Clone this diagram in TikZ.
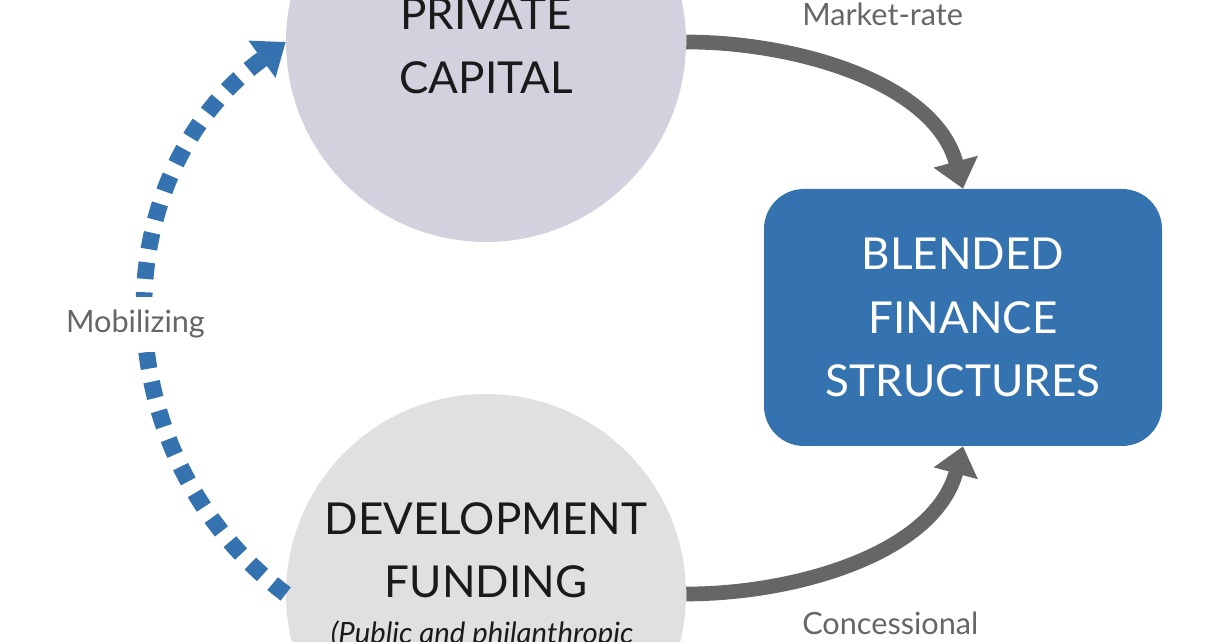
\documentclass[tikz,border=0pt]{standalone}
\usepackage{fontspec}
\setmainfont{Lato}
\usepackage{xcolor}
\usetikzlibrary{arrows.meta, positioning}

\definecolor{blendblue}{HTML}{3572B0}
\definecolor{flowgray}{HTML}{666666}
\definecolor{privfill}{HTML}{D5D0DD}
\definecolor{devfill}{HTML}{E0E0E0}
\definecolor{inkblack}{HTML}{1A1A1A}

\begin{document}
\begin{tikzpicture}[
  x=0.75pt, y=0.75pt,
  pool/.style={circle, minimum size=300pt, inner sep=0pt},
  pooltext/.style={align=center, text=inkblack, inner sep=0pt,
    font=\fontsize{33}{47.5}\selectfont},
  blend/.style={rectangle, rounded corners=30pt, fill=blendblue, text=white,
    align=center, minimum width=298.5pt, minimum height=192.75pt,
    font=\fontsize{33}{47.5}\selectfont},
  note/.style={text=inkblack, inner sep=0pt, font=\fontsize{22}{26}\selectfont\itshape},
  tag/.style={text=flowgray, inner sep=0pt, font=\fontsize{23}{27}\selectfont},
  flow/.style={-{Triangle[length=21pt, width=33pt]}, line width=11pt, draw=flowgray},
  mobil/.style={-{Triangle[length=22pt, width=33pt]}, line width=12.5pt,
    draw=blendblue, dash pattern=on 12.5pt off 10pt}
]
  \useasboundingbox (0,0) rectangle (1210,642);

  \node[pool, fill=privfill] (priv) at (486,600) {};
  \node[pool, fill=devfill] (dev) at (486,48) {};
  \node[blend] (bfs) at (963,324.5) {BLENDED\\FINANCE\\STRUCTURES};

  \node[pooltext] (privtext) at (486,596) {PRIVATE\\CAPITAL};
  \node[pooltext, anchor=north] (devtext) at (486,140) {DEVELOPMENT\\FUNDING};
  \node[note, anchor=base] (devnote) at (482,-2) {(Public and philanthropic};

  \draw[flow] (priv.east) to[out=0, in=105, looseness=0.9] (bfs.north);
  \draw[flow] (dev.east) to[out=0, in=-105, looseness=0.9] (bfs.south);
  \draw[mobil] (dev.west) to[out=143, in=216, looseness=1.07] (priv.west);

  \node[tag, anchor=base west] (mkt) at (802,616) {Market-rate};
  \node[tag, anchor=base west] (conc) at (802,7) {Concessional};
  \node[tag, anchor=base, fill=white, inner ysep=10pt] (mob) at (135.5,309) {Mobilizing};
\end{tikzpicture}
\end{document}
